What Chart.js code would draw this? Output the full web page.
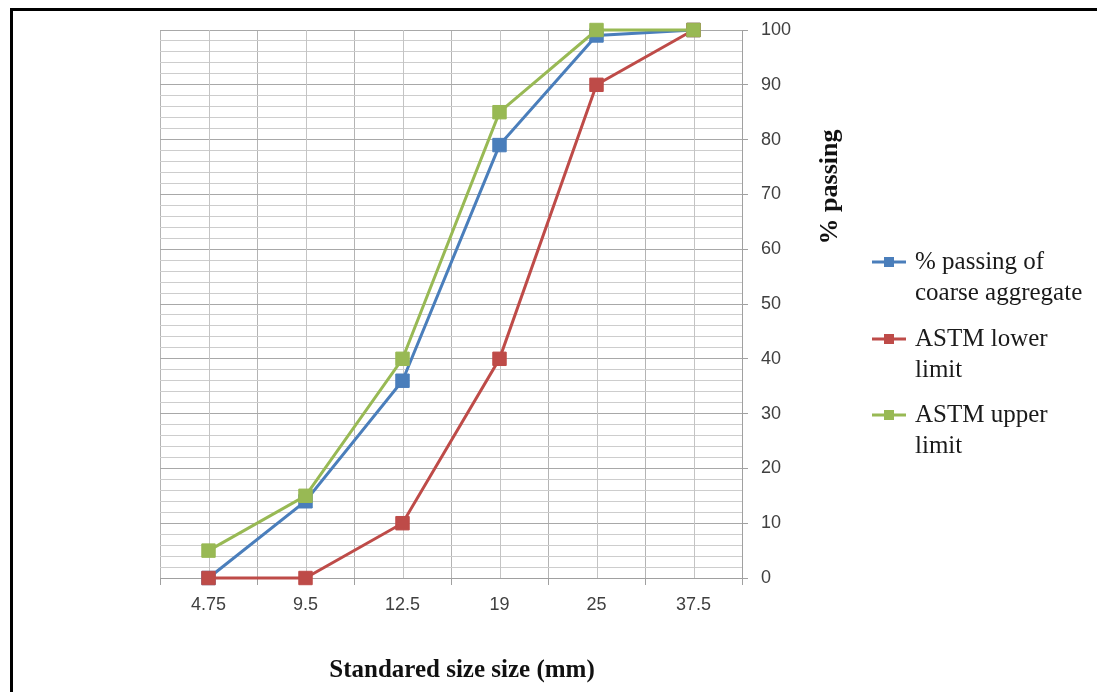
<!DOCTYPE html>
<html>
<head>
<meta charset="utf-8">
<script src="https://cdn.jsdelivr.net/npm/chart.js@4.4.1/dist/chart.umd.min.js"></script>
<style>
  body { margin: 0; background: #fff; }
  #wrap { position: relative; width: 1097px; height: 692px; }
  #frame { position: absolute; left: 10px; top: 8px; right: 0; bottom: 0;
           border-left: 3px solid #000; border-top: 3px solid #000; pointer-events: none; }
</style>
</head>
<body>
<div id="wrap">
  <canvas id="myChart" width="1097" height="692"></canvas>
  <div id="frame"></div>
</div>
<script>
// sieve sizes and % passing
const sizes = ['4.75', '9.5', '12.5', '19', '25', '37.5'];
const coarsePassing = [0, 14, 36, 79, 99, 100];
const astmLower = [0, 0, 10, 40, 90, 100];
const astmUpper = [5, 15, 40, 85, 100, 100];

const seriesNames = [['% passing of', 'coarse aggregate'], ['ASTM lower', 'limit'], ['ASTM upper', 'limit']];
const xTitle = 'Standared size size (mm)';
const yTitle = '% passing';

const blue = '#4A7EBB', red = '#BE4B48', green = '#98B954';

function series(label, data, color, order) {
    return {
        label: label,
        data: data,
        borderColor: color,
        backgroundColor: color,
        pointBackgroundColor: color,
        pointBorderColor: color,
        borderWidth: 3,
        pointStyle: 'rect',
        pointRadius: 9.5,
        pointBorderWidth: 1,
        tension: 0,
        clip: false,
        order: order
    };
}

// extra vertical lines through the category centres + titles + legend
const extras = {
    id: 'extras',
    beforeDatasetsDraw(chart) {
        const {ctx, chartArea} = chart;
        const x = chart.scales.x;
        ctx.save();
        ctx.strokeStyle = '#c4c4c4';
        ctx.lineWidth = 1;
        for (let i = 0; i < sizes.length; i++) {
            const px = Math.round(x.getPixelForTick(i)) + 0.5;
            ctx.beginPath();
            ctx.moveTo(px, chartArea.top);
            ctx.lineTo(px, chartArea.bottom);
            ctx.stroke();
        }
        ctx.restore();
    },
    afterDraw(chart) {
        const ctx = chart.ctx;
        ctx.save();
        ctx.fillStyle = '#111';
        ctx.font = 'bold 25px "Liberation Serif"';
        ctx.textAlign = 'center';
        ctx.textBaseline = 'middle';
        ctx.fillText(xTitle, 462, 671);

        ctx.font = 'bold 26px "Liberation Serif"';
        ctx.translate(830, 187);
        ctx.rotate(-Math.PI / 2);
        ctx.fillText(yTitle, 0, 0);
        ctx.restore();

        // legend
        ctx.save();
        ctx.font = '25px "Liberation Serif"';
        ctx.textAlign = 'left';
        ctx.textBaseline = 'middle';
        const tops = [262, 339, 415];
        chart.data.datasets.forEach((ds, i) => {
            const y = tops[i];
            ctx.strokeStyle = ds.borderColor;
            ctx.lineWidth = 3;
            ctx.beginPath();
            ctx.moveTo(872, y);
            ctx.lineTo(906, y);
            ctx.stroke();
            ctx.fillStyle = ds.borderColor;
            ctx.fillRect(884, y - 5, 10, 10);
            ctx.fillStyle = '#1a1a1a';
            seriesNames[i].forEach((t, j) => ctx.fillText(t, 915, y + j * 31));
        });
        ctx.restore();
    }
};

const ctx = document.getElementById('myChart');

new Chart(ctx, {
    type: 'line',
    data: {
        labels: sizes,
        datasets: [
            series('% passing of coarse aggregate', coarsePassing, blue, 3),
            series('ASTM lower limit', astmLower, red, 2),
            series('ASTM upper limit', astmUpper, green, 1)
        ]
    },
    options: {
        responsive: false,
        animation: false,
        layout: { padding: { left: 160, top: 30, right: 0, bottom: 0 } },
        plugins: {
            legend: { display: false },
            tooltip: { enabled: false }
        },
        scales: {
            x: {
                offset: true,
                grid: { offset: true, color: '#b4b4b4', tickLength: 7, tickColor: '#a0a0a0' },
                border: { color: '#a0a0a0' },
                ticks: { color: '#404040', font: { family: 'Liberation Sans', size: 18 }, padding: 9, maxRotation: 0 },
                afterFit(scale) { scale.height = 114; }
            },
            y: {
                position: 'right',
                min: 0,
                max: 100,
                grid: {
                    color: c => (c.tick && c.tick.value % 10 === 0) ? '#a8a8a8' : '#cdcdcd',
                    tickColor: c => (c.tick && c.tick.value % 10 === 0) ? '#a0a0a0' : 'rgba(0,0,0,0)',
                    tickLength: 6
                },
                border: { color: '#a0a0a0' },
                ticks: {
                    stepSize: 2,
                    autoSkip: false,
                    padding: 13,
                    color: '#404040',
                    font: { family: 'Liberation Sans', size: 18 },
                    callback: v => v % 10 === 0 ? v : ''
                },
                afterFit(scale) { scale.width = 355; }
            }
        }
    },
    plugins: [extras]
});
</script>
</body>
</html>
